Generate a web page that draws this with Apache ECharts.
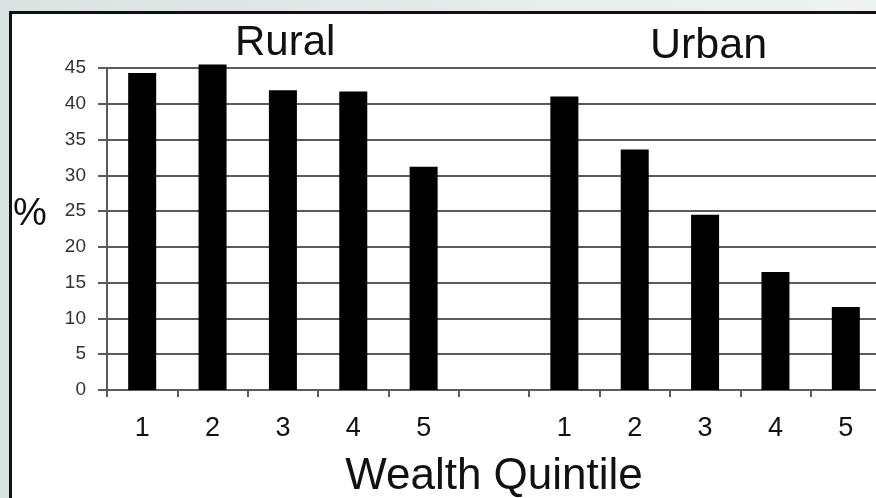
<!DOCTYPE html>
<html>
<head>
<meta charset="utf-8">
<script src="https://cdn.jsdelivr.net/npm/echarts@6/dist/echarts.min.js"></script>
<style>
html,body{margin:0;padding:0;background:#e2e9e8;}
#c{width:876px;height:498px;}
</style>
</head>
<body>
<div id="c"></div>
<script>
// Data
var slotKeys = ['R1','R2','R3','R4','R5','gap','U1','U2','U3','U4','U5'];
var tickLabels = ['1','2','3','4','5','','1','2','3','4','5'];
var ruralValues = [44.3, 45.5, 41.9, 41.7, 31.2];
var urbanValues = [41.0, 33.6, 24.5, 16.5, 11.6];
var yTicks = {min: 0, max: 45, interval: 5};
var groupTitles = ['Rural', 'Urban'];
var xTitle = 'Wealth Quintile';
var yTitle = '%';

var ruralData = ruralValues.concat(['-','-','-','-','-','-']);
var urbanData = ['-','-','-','-','-','-'].concat(urbanValues);

var chart = echarts.init(document.getElementById('c'), null, {renderer:'canvas'});
var lineCol = '#5a5a5a';
var font = 'Liberation Sans, Arial, sans-serif';
chart.setOption({
  backgroundColor: {type:'linear', x:0, y:0, x2:1, y2:0,
    colorStops:[{offset:0, color:'#d9e3e2'}, {offset:1, color:'#eef3f2'}]},
  animation: false,
  graphic: [
    {type:'rect', z:-100, shape:{x:10.5, y:12.5, width:900, height:600},
     style:{fill:'#ffffff', stroke:'#111', lineWidth:3}},
    {type:'text', z:10, left:235, top:22,
     style:{text:groupTitles[0], font:'42px ' + font, fill:'#111'}},
    {type:'text', z:10, left:650, top:25,
     style:{text:groupTitles[1], font:'43px ' + font, fill:'#111'}},
    {type:'text', z:10, left:13, top:196,
     style:{text:yTitle, font:'38px ' + font, fill:'#111'}}
  ],
  grid: {left:107, right:-5, top:68, bottom:108, containLabel:false, outerBoundsMode:'none'},
  xAxis: {
    type:'category',
    data: slotKeys,
    boundaryGap: true,
    name: xTitle,
    nameLocation: 'middle',
    nameGap: 65,
    nameTextStyle: {fontSize:44, fontFamily:font, color:'#111'},
    axisLine: {show:true, lineStyle:{color:lineCol, width:2}},
    axisTick: {show:true, length:7, interval:0, lineStyle:{color:lineCol, width:2}},
    axisLabel: {interval:0, margin:25, fontSize:27, fontFamily:font, color:'#111',
      formatter: function(v, i){ return tickLabels[i]; }},
    splitLine: {show:false}
  },
  yAxis: {
    type:'value',
    min: yTicks.min, max: yTicks.max, interval: yTicks.interval,
    axisLine: {show:true, lineStyle:{color:lineCol, width:2}},
    axisTick: {show:true, length:9, lineStyle:{color:lineCol, width:2}},
    axisLabel: {margin:21, fontSize:19, fontFamily:font, color:'#333'},
    splitLine: {show:true, lineStyle:{color:lineCol, width:2}}
  },
  series: [
    {type:'bar', name:'Rural', data:ruralData, barWidth:28, barGap:'-100%', clip:false,
     itemStyle:{color:'#000'}},
    {type:'bar', name:'Urban', data:urbanData, barWidth:28, barGap:'-100%', clip:false,
     itemStyle:{color:'#000'}}
  ]
});
</script>
</body>
</html>
